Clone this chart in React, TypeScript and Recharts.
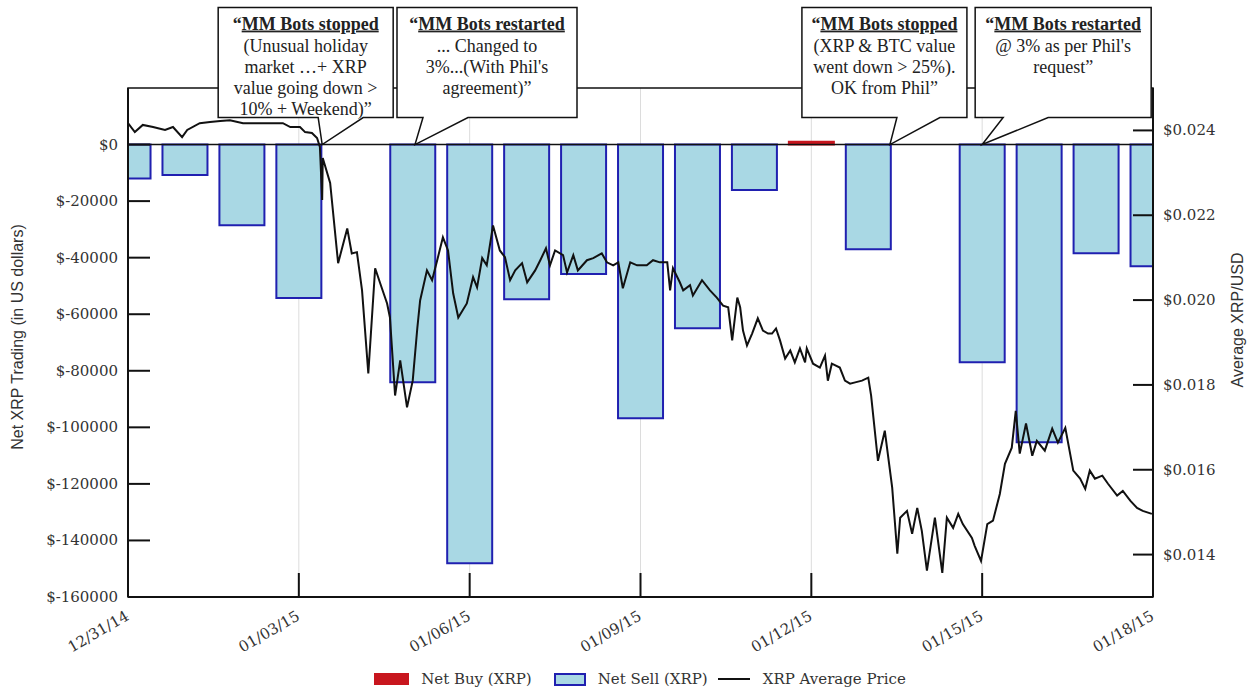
import React from 'react';
import {
  ComposedChart,
  Bar,
  Line,
  XAxis,
  YAxis,
  CartesianGrid,
  ReferenceLine,
  ReferenceArea,
  ReferenceDot,
  Cell,
} from 'recharts';

// Net trading per day (day 0 = 12/31/14), bots were off on days 4 and 14
const barDays = [0, 1, 2, 3, 5, 6, 7, 8, 9, 10, 11, 12, 13, 15, 16, 17, 18];
const netTrading = [
  -12000, -10800, -28500, -54300, -84100, -148100, -54700, -45800, -96800,
  -65000, -16100, 1000, -37000, -77000, -105300, -38400, -43000,
];

// XRP average price: [day, USD]
const priceSeries: [number, number][] = [
  [0, 0.02417], [0.12, 0.02396], [0.26, 0.02413], [0.44, 0.02408], [0.65, 0.02401],
  [0.79, 0.02408], [0.95, 0.02384], [1.04, 0.02401], [1.26, 0.02417], [1.44, 0.0242],
  [1.62, 0.02422], [1.79, 0.02424], [2.02, 0.02417], [2.27, 0.02417], [2.49, 0.02417],
  [2.72, 0.02417], [2.85, 0.02408], [3.02, 0.02408], [3.11, 0.02396], [3.23, 0.02394],
  [3.32, 0.02382], [3.37, 0.02361], [3.41, 0.02236], [3.42, 0.02335], [3.55, 0.02276],
  [3.69, 0.02087], [3.85, 0.02169], [3.93, 0.0211], [4.02, 0.02113], [4.11, 0.02023],
  [4.22, 0.01827], [4.34, 0.02075], [4.43, 0.02039], [4.55, 0.01992], [4.6, 0.01959],
  [4.69, 0.01775], [4.78, 0.01858], [4.9, 0.01747], [5.0, 0.0181], [5.08, 0.01933],
  [5.13, 0.01999], [5.25, 0.0207], [5.34, 0.02047], [5.43, 0.02094], [5.53, 0.02148],
  [5.62, 0.02117], [5.71, 0.02016], [5.8, 0.01959], [5.95, 0.01992], [6.06, 0.02054],
  [6.13, 0.0203], [6.22, 0.02099], [6.3, 0.02082], [6.41, 0.02176], [6.53, 0.02117],
  [6.62, 0.02101], [6.71, 0.02047], [6.8, 0.0207], [6.92, 0.02087], [7.01, 0.02042],
  [7.15, 0.0207], [7.24, 0.02094], [7.34, 0.02122], [7.41, 0.02082], [7.5, 0.02117],
  [7.64, 0.02106], [7.71, 0.02065], [7.82, 0.02106], [7.9, 0.0207], [8.06, 0.02094],
  [8.17, 0.02099], [8.32, 0.0211], [8.41, 0.02089], [8.52, 0.02082], [8.61, 0.02089],
  [8.69, 0.02028], [8.82, 0.02089], [8.94, 0.02082], [9.11, 0.02082], [9.22, 0.02094],
  [9.34, 0.02089], [9.47, 0.02089], [9.52, 0.02023], [9.57, 0.02075], [9.69, 0.02042],
  [9.75, 0.02023], [9.87, 0.02035], [9.92, 0.02011], [10.08, 0.02047], [10.22, 0.02023],
  [10.34, 0.02006], [10.45, 0.01987], [10.54, 0.01983], [10.61, 0.01905], [10.7, 0.02006],
  [10.75, 0.01983], [10.8, 0.01928], [10.87, 0.01893], [10.96, 0.01921], [11.06, 0.01957],
  [11.15, 0.01928], [11.24, 0.01921], [11.31, 0.01921], [11.38, 0.01933], [11.45, 0.01905],
  [11.54, 0.01862], [11.63, 0.01881], [11.71, 0.01853], [11.8, 0.01886], [11.89, 0.01853],
  [11.92, 0.01886], [12.03, 0.0185], [12.15, 0.01841], [12.24, 0.01869], [12.29, 0.0181],
  [12.36, 0.0185], [12.5, 0.01841], [12.59, 0.0181], [12.68, 0.01803], [12.77, 0.01806],
  [12.89, 0.0181], [13.0, 0.01817], [13.05, 0.01775], [13.17, 0.01621], [13.29, 0.01692],
  [13.42, 0.01558], [13.51, 0.01402], [13.56, 0.01487], [13.68, 0.01503], [13.77, 0.01449],
  [13.86, 0.0151], [13.94, 0.01456], [14.03, 0.01362], [14.17, 0.01487], [14.3, 0.01357],
  [14.38, 0.01487], [14.49, 0.01463], [14.58, 0.01496], [14.66, 0.01472], [14.82, 0.01439],
  [14.87, 0.0142], [14.98, 0.01385], [15.09, 0.01472], [15.19, 0.0148], [15.31, 0.01543],
  [15.4, 0.01614], [15.52, 0.01652], [15.59, 0.01739], [15.66, 0.01638], [15.77, 0.01709],
  [15.88, 0.01633], [15.96, 0.01668], [16.1, 0.01645], [16.23, 0.01697], [16.33, 0.01664],
  [16.46, 0.01699], [16.6, 0.01598], [16.72, 0.01579], [16.81, 0.01555], [16.89, 0.01598],
  [16.98, 0.01579], [17.11, 0.01586], [17.21, 0.01567], [17.37, 0.01539], [17.47, 0.0155],
  [17.6, 0.01527], [17.72, 0.0151], [17.82, 0.01503], [17.98, 0.01496],
];

const xTicks = [0, 3, 6, 9, 12, 15, 18];
const xTickLabels = ['12/31/14', '01/03/15', '01/06/15', '01/09/15', '01/12/15', '01/15/15', '01/18/15'];
const netTicks = [0, -20000, -40000, -60000, -80000, -100000, -120000, -140000, -160000];
const priceTicks = [0.014, 0.016, 0.018, 0.02, 0.022, 0.024];

// callouts: tip day on the $0 line, box/tail edges as px offsets from the tip
const notes = [
  {
    tip: 3.41,
    title: 'MM Bots stopped',
    lines: ['(Unusual holiday', 'market …+ XRP', 'value going down >', '10% + Weekend)”'],
    box: [-104, 71],
    base: [-4, 41],
  },
  {
    tip: 5.04,
    title: 'MM Bots restarted',
    lines: ['... Changed to', "3%...(With Phil's", 'agreement)”'],
    box: [-18, 162],
    base: [8, 53],
  },
  {
    tip: 13.38,
    title: 'MM Bots stopped',
    lines: ['(XRP & BTC value', 'went down > 25%).', 'OK from Phil”'],
    box: [-88, 77],
    base: [7, 50],
  },
  {
    tip: 15.0,
    title: 'MM Bots restarted',
    lines: ["@ 3% as per Phil's", 'request”'],
    box: [-7, 169],
    base: [21, 66],
  },
];

const barData = barDays.map((day, i) => ({ day, net: netTrading[i] }));
const priceData = priceSeries.map(([d, p]) => ({ d, p }));

const BUY = '#c8161e';
const SELL_FILL = '#a9d8e4';
const SELL_STROKE = '#2020b0';
const SERIF = '"DejaVu Serif", serif';
const TIMES = '"Liberation Serif", "Times New Roman", serif';

function DateTick({ x, y, payload }: any) {
  const label = xTickLabels[xTicks.indexOf(payload.value)];
  const tx = x + 2;
  const ty = y + 22;
  return (
    <g>
      <line x1={x} x2={x} y1={y} y2={y - 24} stroke="#111" strokeWidth={2} />
      <text x={tx} y={ty} textAnchor="end" fontFamily={SERIF} fontSize={15} fill="#333" transform={`rotate(-30 ${tx} ${ty})`}>
        {label}
      </text>
    </g>
  );
}

function NetTick({ x, y, payload }: any) {
  return (
    <g>
      <line x1={x} x2={x + 22} y1={y} y2={y} stroke="#111" strokeWidth={2} />
      <text x={x - 10} y={y + 5} textAnchor="end" fontFamily={SERIF} fontSize={15} fill="#333">
        {`$${payload.value}`}
      </text>
    </g>
  );
}

function PriceTick({ x, y, payload }: any) {
  return (
    <g>
      <line x1={x} x2={x - 20} y1={y} y2={y} stroke="#111" strokeWidth={2} />
      <text x={x + 10} y={y + 5} textAnchor="start" fontFamily={SERIF} fontSize={15} fill="#333">
        {`$${payload.value.toFixed(3)}`}
      </text>
    </g>
  );
}

function Callout({ cx, cy, note }: any) {
  const [l, r] = note.box;
  const [bl, br] = note.base;
  const top = cy - 137;
  const bottom = cy - 27;
  const d = `M${cx + l},${top} H${cx + r} V${bottom} H${cx + br} L${cx},${cy} L${cx + bl},${bottom} H${cx + l} Z`;
  const mid = cx + (l + r) / 2;
  return (
    <g>
      <path d={d} fill="#fff" stroke="#111" strokeWidth={1.5} />
      <text x={mid} y={top + 22} textAnchor="middle" fontFamily={TIMES} fontSize={18} fontWeight="bold" fill="#222">
        <tspan>“</tspan>
        <tspan style={{ textDecoration: 'underline' }}>{note.title}</tspan>
      </text>
      {note.lines.map((s: string, i: number) => (
        <text key={i} x={mid} y={top + 44 + i * 21} textAnchor="middle" fontFamily={TIMES} fontSize={18} fill="#222">
          {s}
        </text>
      ))}
    </g>
  );
}

export default function App() {
  return (
    <div style={{ position: 'absolute', left: 0, top: 0, width: 1250, height: 690, background: '#fff', fontFamily: SERIF }}>
      <ComposedChart width={1250} height={690} data={barData} margin={{ top: 88, right: 37, bottom: 43, left: 68 }}>
        <CartesianGrid horizontal={false} stroke="#dcdcdc" yAxisId="net" />
        <XAxis
          dataKey="day"
          type="number"
          domain={[0, 18]}
          ticks={xTicks}
          interval={0}
          allowDataOverflow
          height={50}
          tickSize={0}
          tickMargin={0}
          tickLine={false}
          tick={<DateTick />}
          axisLine={{ stroke: '#111', strokeWidth: 2 }}
        />
        <XAxis xAxisId="t" dataKey="d" type="number" domain={[0, 18]} allowDataOverflow hide />
        <YAxis
          yAxisId="net"
          orientation="left"
          domain={[-160000, 20000]}
          ticks={netTicks}
          interval={0}
          allowDataOverflow
          width={60}
          tickSize={0}
          tickMargin={0}
          tickLine={false}
          tick={<NetTick />}
          axisLine={{ stroke: '#111', strokeWidth: 2 }}
        />
        <YAxis
          yAxisId="price"
          orientation="right"
          domain={[0.013, 0.025]}
          ticks={priceTicks}
          interval={0}
          allowDataOverflow
          width={60}
          tickSize={0}
          tickMargin={0}
          tickLine={false}
          tick={<PriceTick />}
          axisLine={{ stroke: '#111', strokeWidth: 2 }}
        />
        <ReferenceArea yAxisId="net" x1={0} x2={18} y1={-160000} y2={20000} fill="none" stroke="#111" strokeWidth={1.5} />
        <Bar yAxisId="net" dataKey="net" barSize={45} isAnimationActive={false}>
          {barData.map((e, i) => (
            <Cell key={`c-${i}`} fill={e.net > 0 ? BUY : SELL_FILL} stroke={e.net > 0 ? BUY : SELL_STROKE} strokeWidth={2} />
          ))}
        </Bar>
        <ReferenceLine yAxisId="net" y={0} stroke="#111" strokeWidth={1.5} />
        <Line
          xAxisId="t"
          yAxisId="price"
          data={priceData}
          dataKey="p"
          type="linear"
          stroke="#111"
          strokeWidth={2}
          dot={false}
          isAnimationActive={false}
        />
        {notes.map((n, i) => (
          <ReferenceDot
            key={`n-${i}`}
            yAxisId="net"
            x={n.tip}
            y={0}
            r={1}
            shape={(p: any) => <Callout cx={p.cx} cy={p.cy} note={n} />}
          />
        ))}
      </ComposedChart>

      {/* axis titles */}
      <div style={{ position: 'absolute', left: 18 - 200, top: 337 - 10, width: 400, lineHeight: '20px', textAlign: 'center', transform: 'rotate(-90deg)', fontFamily: '"Liberation Sans", Arial, sans-serif', fontSize: 16, color: '#333' }}>
        Net XRP Trading (in US dollars)
      </div>
      <div style={{ position: 'absolute', left: 1238 - 150, top: 320 - 10, width: 300, lineHeight: '20px', textAlign: 'center', transform: 'rotate(-90deg)', fontFamily: '"Liberation Sans", Arial, sans-serif', fontSize: 16, color: '#333' }}>
        Average XRP/USD
      </div>

      {/* legend */}
      <div style={{ position: 'absolute', left: 0, top: 670, width: 1280, display: 'flex', justifyContent: 'center', alignItems: 'center', fontSize: 15, color: '#333' }}>
        <div style={{ width: 35, height: 12, background: BUY, marginRight: 12 }} />
        <span>Net Buy (XRP)</span>
        <div style={{ width: 28, height: 9, background: SELL_FILL, border: `2px solid ${SELL_STROKE}`, marginLeft: 22, marginRight: 12 }} />
        <span>Net Sell (XRP)</span>
        <div style={{ width: 32, height: 2, background: '#111', marginLeft: 10, marginRight: 13 }} />
        <span>XRP Average Price</span>
      </div>
    </div>
  );
}
